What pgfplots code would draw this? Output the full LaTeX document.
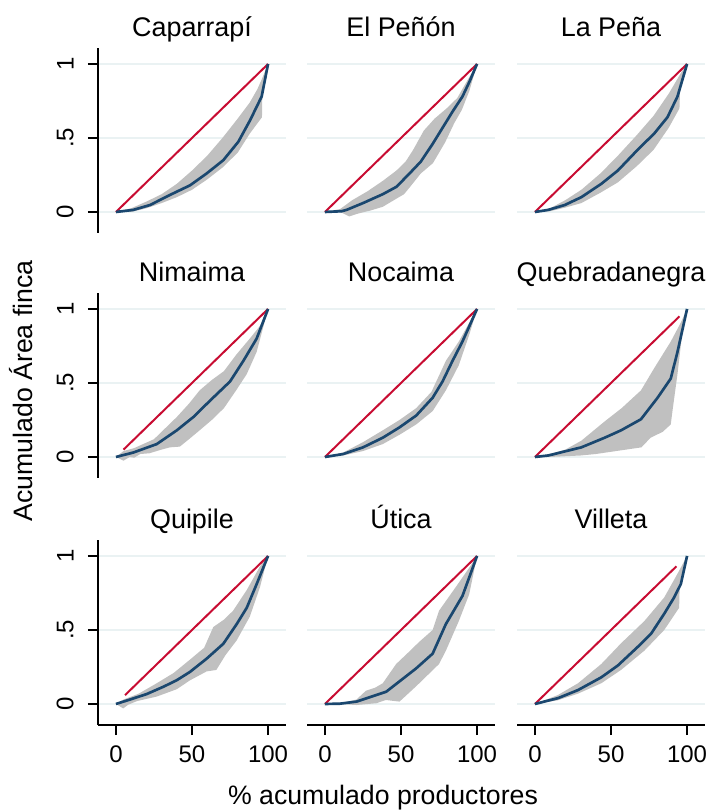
\documentclass[border=0pt]{standalone}
\usepackage{fontspec}
\setmainfont{Liberation Sans}
\usepackage{pgfplots}
\pgfplotsset{compat=1.18}
\definecolor{navyc}{RGB}{26,71,111}
\definecolor{redc}{RGB}{200,12,50}
\definecolor{bandc}{RGB}{192,192,192}
\definecolor{gridc}{RGB}{234,242,243}
\pgfplotsset{
 panel/.style={
  scale only axis, width=141pt, height=138.75pt,
  xmin=-11.8, xmax=111.8, ymin=-0.142, ymax=1.108,
  ytick={0,0.5,1}, xtick={0,50,100},
  ymajorgrids, major grid style={gridc, line width=1.3pt},
  axis line style={draw=none},
  xtick style={draw=none}, ytick style={draw=none},
  xticklabels={,,}, yticklabels={,,},
  tick align=outside, major tick length=7.5pt,
  title style={at={(0.5,1)}, anchor=base, yshift=2.25pt, font=\fontsize{20.2}{21}\selectfont},
  tick label style={font=\fontsize{18}{18}\selectfont, inner sep=0pt},
  anchor=south west,
 },
 leftcol/.style={axis y line*=left, y axis line style={draw=black, line width=1.3pt, -}, ytick style={draw=black, line width=1.3pt}, yticklabels={0,.5,1}, yticklabel style={rotate=90, anchor=south}, yticklabel shift=10.5pt},
 botrow/.style={axis x line*=bottom, x axis line style={draw=black, line width=1.3pt, -}, xtick style={draw=black, line width=1.3pt}, xticklabels={0,50,100}, xticklabel style={anchor=north}, xticklabel shift=8pt},
 band/.style={fill=bandc, draw=none},
 lor/.style={navyc, line width=2pt, line join=round},
 eq/.style={redc, line width=1.5pt},
}
\begin{document}
\begin{tikzpicture}
\path[use as bounding box] (0,0) rectangle (534.75pt,607.5pt);
% Row 1
\begin{axis}[panel, leftcol, at={(73.5pt,432.75pt)}, title={Caparrapí}]
\addplot[band] coordinates {(0,0)(10,0.025)(20,0.07)(30,0.12)(40,0.19)(50,0.28)(60,0.38)(70,0.50)(80,0.63)(88,0.74)(93,0.83)(96,0.9)(100,1)(96.3,0.83)(96,0.64)(88,0.53)(80,0.40)(70,0.30)(60,0.22)(50,0.15)(40,0.10)(30,0.06)(20,0.025)(10,0.0)} -- cycle;
\addplot[eq] coordinates {(0,0)(100,1)};
\addplot[lor] coordinates {(0,0)(11.4,0.014)(22.4,0.047)(35.5,0.115)(48.7,0.18)(59.6,0.26)(70.6,0.35)(80.5,0.475)(88.2,0.62)(95.8,0.78)(100,1)};
\end{axis}
\begin{axis}[panel, at={(230.25pt,432.75pt)}, title={El Peñón}]
\addplot[band] coordinates {(0,0)(10,0.02)(18,0.08)(28,0.14)(38,0.21)(47,0.28)(53,0.34)(58,0.42)(65,0.55)(72,0.63)(80,0.7)(87,0.77)(92,0.86)(100,1)(95,0.82)(90,0.69)(85,0.6)(79,0.47)(71,0.33)(63,0.26)(56,0.17)(52,0.12)(47,0.09)(38,0.035)(30,0.01)(22,-0.01)(16,-0.03)(10,0.0)} -- cycle;
\addplot[eq] coordinates {(0,0)(100,1)};
\addplot[lor] coordinates {(0,0)(10.9,0.005)(14.2,0.014)(25,0.06)(38,0.12)(47,0.17)(55.6,0.26)(63,0.34)(70.8,0.46)(78,0.58)(84,0.68)(90.4,0.78)(95,0.88)(100,1)};
\end{axis}
\begin{axis}[panel, at={(387.75pt,432.75pt)}, title={La Peña}]
\addplot[band] coordinates {(0,0)(10,0.025)(20,0.08)(30.5,0.15)(43,0.26)(54.5,0.38)(67,0.52)(78,0.65)(88,0.80)(96,0.94)(100,1)(95.5,0.85)(95,0.7)(88,0.57)(78,0.42)(67,0.31)(54.5,0.2)(43,0.13)(30.5,0.06)(20,0.03)(10,0.005)} -- cycle;
\addplot[eq] coordinates {(0,0)(100,1)};
\addplot[lor] coordinates {(0,0)(8.7,0.014)(19.6,0.047)(30.5,0.10)(43.6,0.19)(54.5,0.28)(67.5,0.42)(78.4,0.53)(87.1,0.64)(93.7,0.78)(100,1)};
\end{axis}
% Row 2
\begin{axis}[panel, leftcol, at={(73.5pt,249pt)}, title={Nimaima}]
\addplot[band] coordinates {(0,0)(5,0.04)(12,0.06)(25,0.12)(33,0.2)(40,0.27)(48,0.36)(55,0.45)(63,0.52)(71,0.58)(79,0.69)(88,0.8)(95,0.89)(100,1)(92.5,0.71)(86,0.56)(79,0.45)(71,0.33)(63,0.25)(55,0.18)(48,0.12)(42,0.07)(35.5,0.065)(30,0.05)(22,0.025)(16,0.02)(12,-0.005)(9,0.0)(5,-0.025)} -- cycle;
\addplot[eq] coordinates {(5,0.05)(100,1)};
\addplot[lor] coordinates {(0,0)(11.4,0.03)(26.8,0.087)(40,0.18)(50.9,0.27)(61.8,0.38)(75,0.51)(83.8,0.65)(92.5,0.8)(100,1)};
\end{axis}
\begin{axis}[panel, at={(230.25pt,249pt)}, title={Nocaima}]
\addplot[band] coordinates {(0,0)(12,0.03)(25,0.1)(38,0.18)(49,0.25)(60,0.33)(70,0.44)(75,0.55)(79.5,0.65)(88,0.78)(95,0.91)(100,1)(95,0.83)(88,0.62)(79.5,0.45)(70.8,0.31)(60,0.22)(49,0.15)(38,0.087)(25,0.04)(12,0.01)} -- cycle;
\addplot[eq] coordinates {(0,0)(100,1)};
\addplot[lor] coordinates {(0,0)(12,0.02)(25,0.065)(38,0.13)(49,0.2)(60,0.28)(70.8,0.4)(77.3,0.51)(83.9,0.65)(90.4,0.78)(100,1)};
\end{axis}
\begin{axis}[panel, at={(387.75pt,249pt)}, title={Quebradanegra}]
\addplot[band] coordinates {(0,0)(10,0.02)(20,0.05)(30.5,0.11)(45.8,0.24)(57,0.33)(69.7,0.45)(78.4,0.6)(89.3,0.78)(96,0.91)(100,1)(98,0.94)(93.7,0.56)(90.4,0.31)(89.3,0.22)(84,0.17)(76,0.13)(70,0.065)(60,0.05)(50,0.035)(40,0.02)(30,0.01)(10,0.0)} -- cycle;
\addplot[eq] coordinates {(0,0)(95,0.95)};
\addplot[lor] coordinates {(0,0)(8.7,0.01)(30.5,0.065)(45.8,0.13)(56.6,0.18)(69.7,0.255)(80.6,0.4)(89.3,0.53)(93.7,0.71)(100,1)};
\end{axis}
% Row 3
\begin{axis}[panel, leftcol, botrow, at={(73.5pt,63.75pt)}, title={Quipile}]
\addplot[band] coordinates {(0,0)(5,0.03)(15,0.07)(26.8,0.14)(38,0.21)(48.7,0.3)(58,0.38)(64,0.52)(71,0.57)(77,0.63)(86,0.77)(94.7,0.93)(100,1)(94.7,0.79)(88,0.59)(79.4,0.43)(72,0.33)(66,0.23)(59.6,0.22)(48.7,0.16)(40,0.1)(26.8,0.05)(14,0.02)(8,-0.005)(4.8,-0.03)} -- cycle;
\addplot[eq] coordinates {(6,0.06)(100,1)};
\addplot[lor] coordinates {(0,0)(9.2,0.03)(20.2,0.067)(31.1,0.116)(39.9,0.16)(48.7,0.217)(59.6,0.306)(70.6,0.407)(79.4,0.54)(86,0.65)(92.5,0.81)(100,1)};
\end{axis}
\begin{axis}[panel, botrow, at={(230.25pt,63.75pt)}, title={Útica}]
\addplot[band] coordinates {(0,0)(10,0.005)(20.7,0.03)(27,0.09)(33,0.11)(38,0.14)(46.8,0.27)(55,0.35)(62,0.42)(70.8,0.5)(75,0.63)(86,0.79)(94.8,0.92)(100,1)(94.8,0.74)(88,0.56)(79.5,0.36)(75,0.27)(60,0.12)(49,0.016)(40,0.027)(33.8,0.005)(20.7,-0.007)(10,0.0)} -- cycle;
\addplot[eq] coordinates {(0,0)(100,1)};
\addplot[lor] coordinates {(0,0)(9.8,0.002)(20.7,0.016)(40.3,0.083)(59.9,0.24)(70.8,0.34)(79.5,0.54)(90.4,0.73)(100,1)};
\end{axis}
\begin{axis}[panel, botrow, at={(387.75pt,63.75pt)}, title={Villeta}]
\addplot[band] coordinates {(0,0)(15,0.06)(28.3,0.14)(43.6,0.27)(56.6,0.41)(71.9,0.56)(85,0.72)(93.7,0.88)(100,1)(95.2,0.82)(94.8,0.65)(85,0.5)(71.9,0.36)(56.6,0.23)(43.6,0.14)(28.3,0.07)(15,0.025)} -- cycle;
\addplot[eq] coordinates {(0,0)(93,0.93)};
\addplot[lor] coordinates {(0,0)(15.3,0.04)(28.3,0.094)(43.6,0.18)(54.5,0.26)(67.5,0.385)(76.3,0.474)(85,0.61)(91.5,0.72)(95.9,0.81)(100,1)};
\end{axis}
\node[rotate=90, anchor=base, font=\fontsize{20}{20}\selectfont] at (24.75pt,314.25pt) {Acumulado Área finca};
\node[anchor=base, font=\fontsize{20}{20}\selectfont] at (287.25pt,4.5pt) {\% acumulado productores};
\end{tikzpicture}
\end{document}
